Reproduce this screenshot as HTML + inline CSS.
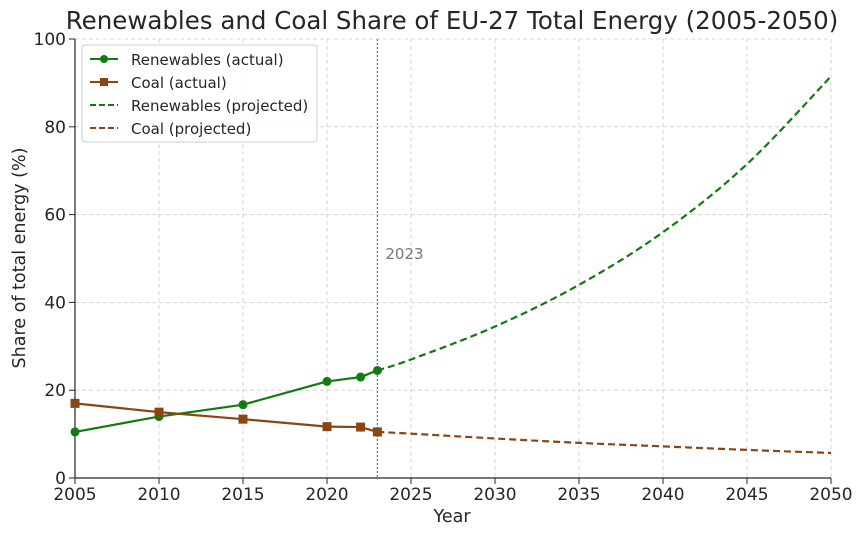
<!DOCTYPE html>
<html><head><meta charset="utf-8"><style>
body{margin:0;background:#fff;}
svg text{font-family:"DejaVu Sans","Liberation Sans",sans-serif;}
</style></head><body>
<svg id="chart" width="865" height="537" viewBox="0 0 865 537">
<text x="452" y="29" text-anchor="middle" font-size="24.5" fill="#262626">Renewables and Coal Share of EU-27 Total Energy (2005-2050)</text>
<g id="grid"></g>
<g id="axes"></g>
<g id="series"></g>
<text x="452" y="522" text-anchor="middle" font-size="17.5" fill="#262626">Year</text>
<text transform="translate(25,258) rotate(-90)" text-anchor="middle" font-size="17.5" fill="#262626">Share of total energy (%)</text>
<g>
<rect x="82" y="45" width="235" height="97" rx="3" fill="#fff" fill-opacity="0.85" stroke="#ccc"/>
<g><line x1="90" y1="59" x2="118" y2="59" stroke="#107c10" stroke-width="2"/><circle cx="104" cy="59" r="4" fill="#107c10"/><text x="131" y="65" font-size="15" fill="#262626">Renewables (actual)</text></g>
<g><line x1="90" y1="82" x2="118" y2="82" stroke="#8b4513" stroke-width="2"/><rect x="100" y="78" width="8" height="8" fill="#8b4513"/><text x="131" y="88" font-size="15" fill="#262626">Coal (actual)</text></g>
<g><line x1="90" y1="105" x2="118" y2="105" stroke="#107c10" stroke-width="2" stroke-dasharray="6,3"/><text x="131" y="111" font-size="15" fill="#262626">Renewables (projected)</text></g>
<g><line x1="90" y1="128" x2="118" y2="128" stroke="#8b4513" stroke-width="2" stroke-dasharray="6,3"/><text x="131" y="134" font-size="15" fill="#262626">Coal (projected)</text></g>
</g>
</svg>
<script>
const actualYears=[2005,2010,2015,2020,2022,2023];
const renewActual=[10.5,14,16.7,22,23,24.5];
const coalActual=[17,15,13.4,11.7,11.6,10.5];
const projYears=[2023,2025,2030,2035,2040,2045,2050];
const renewProj=[24.5,27,34.5,44,56,71.5,91.5];
const coalProj=[10.5,10.1,9,8,7.2,6.4,5.7];
const xTicks=[2005,2010,2015,2020,2025,2030,2035,2040,2045,2050];
const yTicks=[0,20,40,60,80,100];
const markerYear=2023;
const NS='http://www.w3.org/2000/svg';
const x=v=>75+(v-2005)/45*756;
const y=v=>478-v/100*439;
function mk(tag,attrs,parent){const e=document.createElementNS(NS,tag);for(const k in attrs)e.setAttribute(k,attrs[k]);parent.appendChild(e);return e;}
const grid=document.getElementById('grid'),axes=document.getElementById('axes'),ser=document.getElementById('series');
xTicks.forEach(t=>{
 const g=mk('line',{x1:x(t),x2:x(t),y1:39,y2:478,stroke:'#ccc','stroke-dasharray':'4,3','stroke-width':0.8},grid);
 
 mk('line',{x1:x(t),x2:x(t),y1:478,y2:484,stroke:'#262626'},axes);
 const tx=mk('text',{x:x(t),y:500,'text-anchor':'middle','font-size':17,fill:'#262626'},axes);tx.textContent=t;
 
});
yTicks.forEach(t=>{
 const g=mk('line',{x1:75,x2:831,y1:y(t),y2:y(t),stroke:'#ccc','stroke-dasharray':'4,3','stroke-width':0.8},grid);
 
 mk('line',{x1:69,x2:75,y1:y(t),y2:y(t),stroke:'#262626'},axes);
 const tx=mk('text',{x:66,y:y(t)+6,'text-anchor':'end','font-size':17,fill:'#262626'},axes);tx.textContent=t;
 
});
mk('line',{x1:75,x2:75,y1:39,y2:478,stroke:'#262626','stroke-width':1.2},axes);
mk('line',{x1:75,x2:831,y1:478,y2:478,stroke:'#262626','stroke-width':1.2},axes);
const vl=mk('line',{x1:x(markerYear),x2:x(markerYear),y1:39,y2:478,stroke:'#777','stroke-dasharray':'2,2','stroke-width':1.3},ser);

const vt=mk('text',{x:x(markerYear)+8,y:259,'font-size':15,fill:'#777'},ser);vt.textContent=String(markerYear);

function smooth(xs,ys){const p=xs.map((v,i)=>[x(v),y(ys[i])]);let d='M'+p[0][0]+','+p[0][1];
 for(let i=0;i<p.length-1;i++){const p0=p[i-1]||p[i],p1=p[i],p2=p[i+1],p3=p[i+2]||p2;
 d+=' C'+(p1[0]+(p2[0]-p0[0])/6)+','+(p1[1]+(p2[1]-p0[1])/6)+' '+(p2[0]-(p3[0]-p1[0])/6)+','+(p2[1]-(p3[1]-p1[1])/6)+' '+p2[0]+','+p2[1];}return d;}
const rp=mk('path',{d:smooth(projYears,renewProj),fill:'none',stroke:'#107c10','stroke-width':2.2,'stroke-dasharray':'7,4'},ser);

const cp=mk('path',{d:smooth(projYears,coalProj),fill:'none',stroke:'#8b4513','stroke-width':2.2,'stroke-dasharray':'7,4'},ser);

const ra=mk('polyline',{points:actualYears.map((v,i)=>x(v)+','+y(renewActual[i])).join(' '),fill:'none',stroke:'#107c10','stroke-width':2.2},ser);

const ca=mk('polyline',{points:actualYears.map((v,i)=>x(v)+','+y(coalActual[i])).join(' '),fill:'none',stroke:'#8b4513','stroke-width':2.2},ser);

actualYears.forEach((v,i)=>{
 const c=mk('circle',{cx:x(v),cy:y(renewActual[i]),r:4.5,fill:'#107c10'},ser);
 
 const s=mk('rect',{x:x(v)-4.5,y:y(coalActual[i])-4.5,width:9,height:9,fill:'#8b4513'},ser);
 
});
</script>
</body></html>
